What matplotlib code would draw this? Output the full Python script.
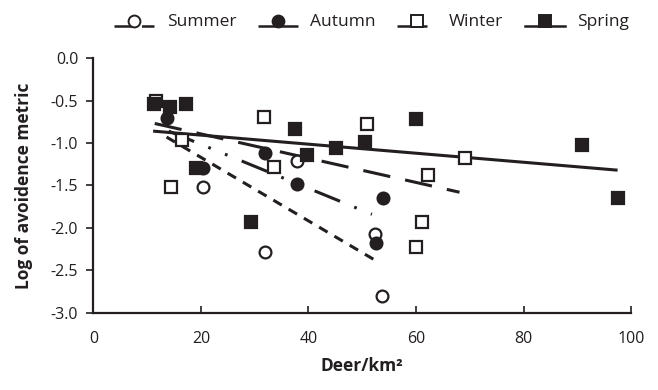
import matplotlib
matplotlib.use("Agg")
import matplotlib.pyplot as plt
from matplotlib.lines import Line2D
from matplotlib.legend_handler import HandlerBase

plt.rcParams['font.family'] = ['Open Sans', 'DejaVu Sans']

INK = '#231f20'

# ---- data ----
summer_x = [20.4, 32.0, 37.9, 52.4, 53.7]
summer_y = [-1.52, -2.28, -1.21, -2.07, -2.80]

autumn_x = [13.6, 20.4, 31.9, 37.9, 53.8, 52.6]
autumn_y = [-0.71, -1.29, -1.12, -1.48, -1.65, -2.18]

winter_x = [11.6, 16.4, 14.5, 31.7, 33.5, 50.9, 62.3, 61.1, 60.0, 69.1]
winter_y = [-0.50, -0.97, -1.52, -0.69, -1.28, -0.78, -1.38, -1.93, -2.23, -1.18]

spring_x = [11.3, 14.2, 17.3, 19.1, 29.4, 37.5, 39.7, 45.1, 50.6, 60.0, 90.9, 97.5]
spring_y = [-0.54, -0.58, -0.54, -1.29, -1.93, -0.83, -1.14, -1.06, -0.99, -0.72, -1.02, -1.65]

# fitted trend lines (end points)
summer_fit_x = [13.6, 52.1]
summer_fit_y = [-0.93, -2.37]
autumn_fit_x = [14.0, 51.8]
autumn_fit_y = [-0.86, -1.84]
winter_fit_x = [11.4, 68.1]
winter_fit_y = [-0.77, -1.58]
spring_fit_x = [11.1, 97.5]
spring_fit_y = [-0.86, -1.32]

x_ticks = [0, 20, 40, 60, 80, 100]
y_ticks = [0.0, -0.5, -1.0, -1.5, -2.0, -2.5, -3.0]
y_ticklabels = ['0.0', '-0.5', '-1.0', '-1.5', '-2.0', '-2.5', '-3.0']

fig = plt.figure(figsize=(6.58, 3.90), dpi=100)
ax = fig.add_axes([0.142, 0.198, 0.817, 0.653])

ms = 8.5
lw_fit = 2.2

short_dash = (0, (3.2, 2.6))
long_dash = (0, (9, 5))
dash_dot_dot = (0, (9, 5, 0.9, 5, 0.9, 5))

series = [
    ('Summer', summer_x, summer_y, summer_fit_x, summer_fit_y, 'o', 'white', short_dash),
    ('Autumn', autumn_x, autumn_y, autumn_fit_x, autumn_fit_y, 'o', INK, dash_dot_dot),
    ('Winter', winter_x, winter_y, winter_fit_x, winter_fit_y, 's', 'white', long_dash),
    ('Spring', spring_x, spring_y, spring_fit_x, spring_fit_y, 's', INK, '-'),
]

for name, xs, ys, fx, fy, mk, fc, ls in series:
    ax.plot(fx, fy, color=INK, lw=lw_fit, linestyle=ls, zorder=2,
            dash_capstyle='butt', solid_capstyle='butt')
    ax.plot(xs, ys, linestyle='none', marker=mk, markersize=ms,
            markerfacecolor=fc, markeredgecolor=INK, markeredgewidth=1.6, zorder=3)

ax.set_xlim(0, 100)
ax.set_ylim(-3.0, 0.0)
ax.set_xticks(x_ticks)
ax.set_yticks(y_ticks)
ax.set_yticklabels(y_ticklabels)

for s in ['top', 'right']:
    ax.spines[s].set_visible(False)
for s in ['left', 'bottom']:
    ax.spines[s].set_color(INK)
    ax.spines[s].set_linewidth(1.6)
ax.spines['left'].set_zorder(5)
ax.spines['bottom'].set_zorder(5)

ax.tick_params(axis='x', direction='in', length=5, width=1.2, color=INK,
               labelsize=11.5, labelcolor=INK, pad=13)
ax.tick_params(axis='y', direction='out', length=5, width=1.2, color=INK,
               labelsize=11.5, labelcolor=INK, pad=6)

ax.set_xlabel('Deer/km²', fontsize=12.5, fontweight='bold', color=INK, labelpad=7)
ax.set_ylabel('Log of avoidence metric', fontsize=12.5, fontweight='bold', color=INK, labelpad=13)


class OffsetMarkerHandler(HandlerBase):
    def __init__(self, marker, fc, ls, **kw):
        super().__init__(**kw)
        self.marker = marker
        self.fc = fc
        self.ls = ls

    def create_artists(self, legend, orig_handle, xdescent, ydescent,
                       width, height, fontsize, trans):
        y0 = -ydescent + height * 0.0
        line = Line2D([-xdescent, width - xdescent], [y0, y0], color=INK,
                      lw=1.8, linestyle=self.ls, transform=trans,
                      dash_capstyle='butt')
        m = Line2D([width / 2 - xdescent], [y0 + ms * 0.45], marker=self.marker,
                   markersize=ms, markerfacecolor=self.fc, markeredgecolor=INK,
                   markeredgewidth=1.4, linestyle='none', transform=trans)
        return [line, m]


legend_styles = {
    'Summer': (0, (8.5, 2.5, 20, 2)),
    'Autumn': (0, (16, 5, 1, 10)),
    'Winter': (0, (12, 9, 4, 4)),
    'Spring': '-',
}

handles = []
handler_map = {}
for name, xs, ys, fx, fy, mk, fc, ls in series:
    h = Line2D([], [], label=name)
    handler_map[h] = OffsetMarkerHandler(mk, fc, legend_styles[name])
    handles.append(h)

leg = fig.legend(handles=handles, handler_map=handler_map, loc='upper center',
                 bbox_to_anchor=(0.565, 1.005), ncol=4, frameon=False,
                 fontsize=12.5, handlelength=2.3, handletextpad=0.7,
                 columnspacing=1.25)
for t in leg.get_texts():
    t.set_color(INK)

fig.savefig('out.png', dpi=100)
